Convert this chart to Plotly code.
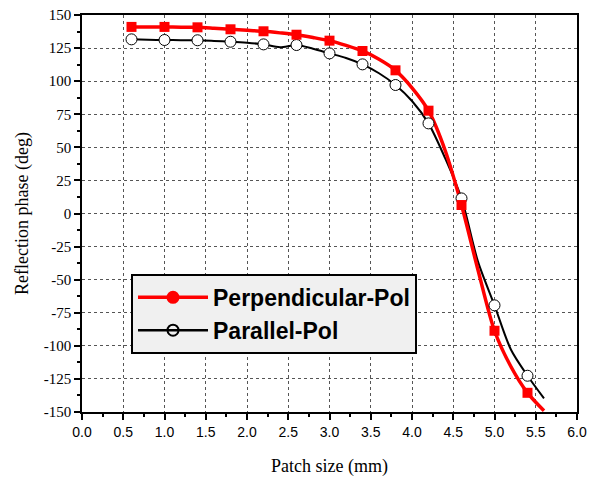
import plotly.graph_objects as go

# Patch size (mm), step 0.2
patch_size = [0.6, 0.8, 1.0, 1.2, 1.4, 1.6, 1.8, 2.0, 2.2, 2.4, 2.6, 2.8, 3.0, 3.2,
              3.4, 3.6, 3.8, 4.0, 4.2, 4.4, 4.6, 4.8, 5.0, 5.2, 5.4, 5.6]
perpendicular = [141.0, 141.0, 141.0, 140.8, 140.7, 140.0, 139.2, 138.5, 137.7, 136.5,
                 135.1, 133.0, 130.6, 127.0, 122.8, 116.5, 108.2, 95.0, 77.7, 48.0,
                 6.4, -42.7, -88.6, -115.8, -135.5, -149.0]
parallel = [131.6, 131.3, 131.1, 131.0, 130.9, 130.4, 129.8, 129.0, 127.8, 125.6,
            127.3, 124.5, 121.0, 117.5, 112.7, 106.0, 97.1, 85.0, 68.1, 42.0,
            11.4, -36.4, -69.4, -103.0, -122.6, -139.7]
series_names = ["Perpendicular-Pol", "Parallel-Pol"]
y_ticks = list(range(-150, 151, 25))
y_tick_labels = [str(v) for v in y_ticks]  # plain hyphen minus
x_ticks = [i * 0.5 for i in range(13)]
x_tick_labels = ["%.1f" % v for v in x_ticks]

fig = go.Figure()

# lines
fig.add_trace(go.Scatter(x=patch_size, y=parallel, mode="lines",
                         line=dict(color="black", width=2, shape="spline", smoothing=0.8),
                         showlegend=False))
fig.add_trace(go.Scatter(x=patch_size, y=perpendicular, mode="lines",
                         line=dict(color="#ff0000", width=3.5, shape="spline", smoothing=0.8),
                         showlegend=False))
# markers every other point
fig.add_trace(go.Scatter(x=patch_size[:-1:2], y=parallel[:-1:2], mode="markers",
                         marker=dict(symbol="circle", size=11, color="white",
                                     line=dict(color="black", width=1)),
                         showlegend=False))
fig.add_trace(go.Scatter(x=patch_size[:-1:2], y=perpendicular[:-1:2], mode="markers",
                         marker=dict(symbol="square", size=10, color="#ff0000"),
                         showlegend=False))
# legend entries
fig.add_trace(go.Scatter(x=[None], y=[None], mode="lines+markers", name=series_names[0],
                         line=dict(color="#ff0000", width=3.5),
                         marker=dict(symbol="circle", size=13, color="#ff0000")))
fig.add_trace(go.Scatter(x=[None], y=[None], mode="lines+markers", name=series_names[1],
                         line=dict(color="black", width=2.5),
                         marker=dict(symbol="circle-open", size=11, color="black",
                                     line=dict(width=2))))

axis_common = dict(showline=True, linecolor="black", linewidth=1.5, mirror=True,
                   ticks="outside", ticklen=6, tickwidth=1.5, tickcolor="black",
                   showgrid=True, gridcolor="#555555", gridwidth=1, griddash="dot",
                   zeroline=False, automargin=False, ticklabeloverflow="allow")

fig.update_xaxes(range=[0, 6], tickmode="array", tickvals=x_ticks, ticktext=x_tick_labels,
                 tickfont=dict(family="Liberation Sans, Arial", size=14, color="black"),
                 title=dict(text="Patch size (mm)",
                            font=dict(family="Liberation Serif, Times New Roman", size=18, color="black"),
                            standoff=21),
                 minor=dict(ticks="outside", dtick=0.25, ticklen=3, tickcolor="black", showgrid=False),
                 **axis_common)
fig.update_yaxes(range=[-150, 150], tickmode="array", tickvals=y_ticks, ticktext=y_tick_labels,
                 tickfont=dict(family="Liberation Serif, Times New Roman", size=15, color="black"),
                 title=dict(text="Reflection phase (deg)",
                            font=dict(family="Liberation Serif, Times New Roman", size=18, color="black"),
                            standoff=10),
                 minor=dict(ticks="outside", tick0=0, dtick=12.5, ticklen=3, tickcolor="black", showgrid=False),
                 **axis_common)

fig.update_layout(
    width=589, height=478,
    margin=dict(l=82, r=12, t=15, b=66),
    plot_bgcolor="white", paper_bgcolor="white",
    legend=dict(x=0.099, y=0.348, xanchor="left", yanchor="top",
                bgcolor="#f0f0f0", bordercolor="black", borderwidth=2,
                font=dict(family="Liberation Sans, Arial", size=23, color="black", weight="bold"),
                itemwidth=70, tracegroupgap=0),
)

fig.write_html("out.html", config={"displayModeBar": False},
               post_script="document.body.style.margin='0';document.body.style.overflow='hidden';")
